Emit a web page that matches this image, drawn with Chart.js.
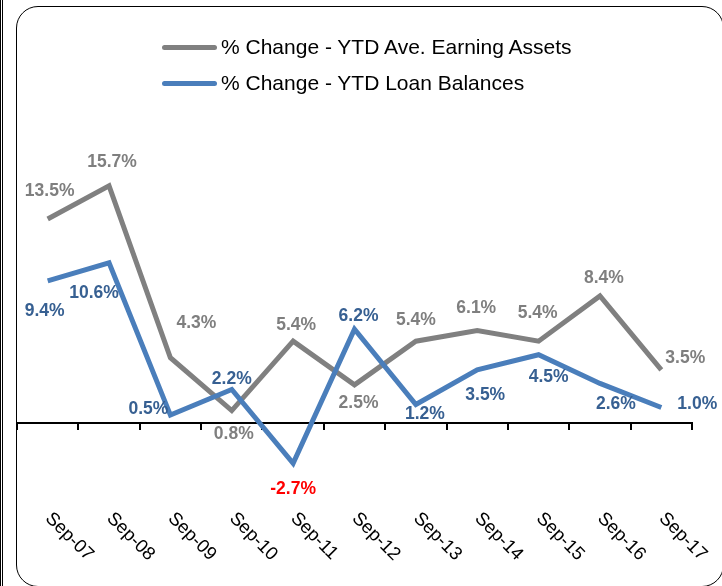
<!DOCTYPE html>
<html>
<head>
<meta charset="utf-8">
<script src="https://cdn.jsdelivr.net/npm/chart.js@4"></script>
<style>
body { margin: 0; width: 722px; height: 586px; overflow: hidden; background: #fff; position: relative; font-family: "Liberation Sans", Arial, sans-serif; }
#edge { position: absolute; left: 0; top: 0; width: 1px; height: 586px; border-left: 1px solid #000; border-right: 1px solid #000; }
#frame { position: absolute; left: 16px; top: 6px; width: 706px; height: 579px; border: 1.5px solid #000; border-radius: 22px; }
#wrap { position: absolute; left: 0; top: 0; width: 722px; height: 586px; }
#legend { position: absolute; left: 162px; top: 29px; }
.item { display: flex; align-items: center; height: 36px; font-size: 21px; color: #000; white-space: nowrap; }
.swatch { width: 55px; height: 5px; border-radius: 3px; margin-right: 4px; }
</style>
</head>
<body>
<div id="edge"></div>
<div id="frame"></div>
<div id="wrap"><canvas id="chart" width="722" height="586"></canvas></div>
<div id="legend"></div>
<script>
// values
var categories = ['Sep-07', 'Sep-08', 'Sep-09', 'Sep-10', 'Sep-11', 'Sep-12', 'Sep-13', 'Sep-14', 'Sep-15', 'Sep-16', 'Sep-17'];
var earningAssets = [13.5, 15.7, 4.3, 0.8, 5.4, 2.5, 5.4, 6.1, 5.4, 8.4, 3.5];
var loanBalances = [9.4, 10.6, 0.5, 2.2, -2.7, 6.2, 1.2, 3.5, 4.5, 2.6, 1.0];
var seriesNames = ['% Change - YTD Ave. Earning Assets', '% Change - YTD Loan Balances'];

// where each value label sits relative to its point (dx, dy)
var grayLabelPos = [[2, -28], [3, -24], [26, -35], [2, 24], [3, -16], [4, 18], [0, -21], [-1, -22], [-1, -28], [4, -18], [24, -12]];
var blueLabelPos = [[-3, 30], [-15, 30], [-22, -6], [0, -10], [0, 26], [4, -13], [9, 10], [8, 25], [10, 22], [16, 21], [36, -3]];

var grayLine = '#808080';
var blueLine = '#4a7ebb';
var grayText = '#7f7f7f';
var blueText = '#376092';

// value labels drawn next to each point
var valueLabels = {
    id: 'valueLabels',
    afterDatasetsDraw: function (chart) {
        var ctx = chart.ctx;
        ctx.save();
        ctx.font = 'bold 17.5px "Liberation Sans", Arial, sans-serif';
        ctx.textAlign = 'center';
        ctx.textBaseline = 'middle';
        chart.data.datasets.forEach(function (ds, di) {
            var meta = chart.getDatasetMeta(di);
            var offs = di === 0 ? grayLabelPos : blueLabelPos;
            meta.data.forEach(function (pt, i) {
                var v = ds.data[i];
                ctx.fillStyle = v < 0 ? '#ff0000' : ds.labelColor;
                ctx.fillText(v.toFixed(1) + '%', pt.x + offs[i][0], pt.y + offs[i][1]);
            });
        });
        ctx.restore();
    }
};

// category labels, rotated down to the right
var slantLabels = {
    id: 'slantLabels',
    afterDraw: function (chart) {
        var ctx = chart.ctx;
        var xs = chart.scales.x;
        var top = chart.chartArea.bottom + 11;
        ctx.save();
        ctx.font = '18.5px "Liberation Sans", Arial, sans-serif';
        ctx.fillStyle = '#000';
        ctx.textAlign = 'left';
        ctx.textBaseline = 'top';
        categories.forEach(function (c, i) {
            ctx.save();
            ctx.translate(xs.getPixelForValue(i) + 7, top);
            ctx.rotate(Math.PI / 4);
            ctx.fillText(c, 0, 0);
            ctx.restore();
        });
        ctx.restore();
    }
};

var ctx = document.getElementById('chart').getContext('2d');
var chart = new Chart(ctx, {
    type: 'line',
    data: {
        labels: categories,
        datasets: [{
            label: seriesNames[0],
            data: earningAssets,
            borderColor: grayLine,
            labelColor: grayText,
            borderWidth: 5,
            pointRadius: 0,
            tension: 0,
            order: 2
        }, {
            label: seriesNames[1],
            data: loanBalances,
            borderColor: blueLine,
            labelColor: blueText,
            borderWidth: 5,
            pointRadius: 0,
            tension: 0,
            order: 1
        }]
    },
    options: {
        responsive: false,
        animation: false,
        layout: { padding: { left: 17, right: 30, top: 121, bottom: 88 } },
        plugins: {
            legend: { display: false },
            tooltip: { enabled: false }
        },
        scales: {
            x: { display: false, offset: true },
            axis0: {
                type: 'category',
                axis: 'x',
                position: { y: 0 },
                offset: true,
                ticks: { display: false },
                border: { display: true, color: '#000', width: 2 },
                grid: { display: true, offset: true, drawOnChartArea: false, drawTicks: true, tickLength: 6, color: '#000', lineWidth: 2 }
            },
            y: { display: false, min: -5, max: 20 }
        }
    },
    plugins: [valueLabels, slantLabels]
});

// legend built from the chart's datasets
var legend = document.getElementById('legend');
chart.data.datasets.forEach(function (ds) {
    var row = document.createElement('div');
    row.className = 'item';
    var sw = document.createElement('span');
    sw.className = 'swatch';
    sw.style.background = ds.borderColor;
    row.appendChild(sw);
    row.appendChild(document.createTextNode(ds.label));
    legend.appendChild(row);
});
</script>
</body>
</html>
